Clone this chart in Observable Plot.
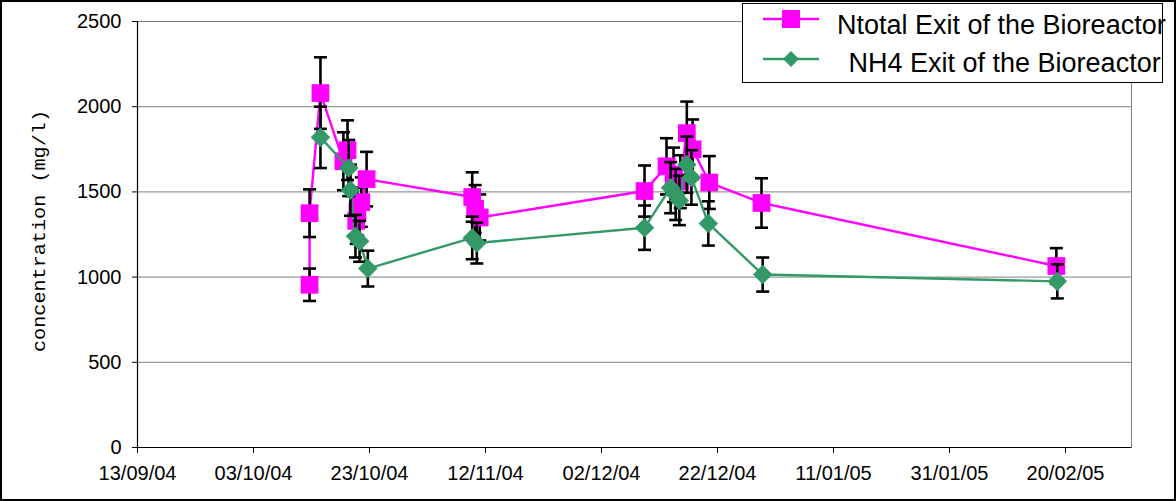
<!DOCTYPE html>
<html><head><meta charset="utf-8">
<script src="https://cdn.jsdelivr.net/npm/d3@7"></script>
<script src="https://cdn.jsdelivr.net/npm/@observablehq/plot@0.6"></script>
<style>
body{margin:0;background:#fff;}
#wrap{position:relative;width:1176px;height:501px;overflow:hidden;}
#wrap > svg{display:block;outline:2px solid #000;outline-offset:-2px;}
#legend{position:absolute;left:742px;top:3px;width:421px;height:80px;box-sizing:border-box;border:1px solid #000;background:#fff;font-family:"Liberation Sans",Arial,sans-serif;font-size:27px;line-height:27px;color:#000;}
#legend span{position:absolute;white-space:pre;}
#legend svg{position:absolute;left:0;top:0;}
</style></head>
<body><div id="wrap"><div id="legend"></div></div>
<script>
// ---- data ----
const seriesNames = ["Ntotal Exit of the Bioreactor", " NH4 Exit of the Bioreactor"];
const yLabel = "concentration (mg/l)";

const ntotalDates = ["2004-10-12T16:00","2004-10-12T16:00","2004-10-14T13:00","2004-10-18T12:00","2004-10-19T05:00",
  "2004-10-20T17:00","2004-10-20T22:00","2004-10-21T14:00","2004-10-22T12:00",
  "2004-11-09T17:00","2004-11-10T05:00","2004-11-11T00:00",
  "2004-12-09T10:00","2004-12-13T05:00","2004-12-14T10:00","2004-12-15T14:00","2004-12-16T17:00","2004-12-17T17:00","2004-12-20T14:00",
  "2004-12-29T14:00","2005-02-18T10:00"];
const ntotalValues = [955,1375,2080,1680,1745,1330,1385,1440,1575,1470,1400,1350,1505,1650,1600,1560,1845,1750,1555,1435,1065];
const ntotalErrors = [95,140,210,170,175,135,140,145,160,145,140,135,150,165,160,155,185,175,155,145,105];

const nh4Dates = ["2004-10-14T13:00","2004-10-19T10:00","2004-10-19T17:00","2004-10-20T14:00","2004-10-21T07:00","2004-10-22T17:00",
  "2004-11-09T17:00","2004-11-10T12:00",
  "2004-12-09T10:00","2004-12-13T22:00","2004-12-14T19:00","2004-12-15T10:00","2004-12-16T17:00","2004-12-17T12:00","2004-12-20T10:00",
  "2004-12-29T19:00","2005-02-18T14:00"];
const nh4Values = [1820,1640,1510,1240,1210,1050,1230,1200,1290,1525,1485,1450,1660,1585,1315,1015,975];
const nh4Errors = [180,165,150,125,120,105,125,120,130,150,150,145,165,160,130,100,100];

const xTickDates = ["2004-09-13","2004-10-03","2004-10-23","2004-11-12","2004-12-02","2004-12-22","2005-01-11","2005-01-31","2005-02-20"];
const yTicks = [0,500,1000,1500,2000,2500];
const xDomain = ["2004-09-13T00:00","2005-03-03T09:00"];
const colors = ["#FF00FF","#339966"];

// ---- build ----
const parse = s => new Date((s.length === 10 ? s + "T00:00" : s) + "Z");
const rows = (dates, vals, errs) => dates.map((d,i) => ({date: parse(d), v: vals[i], lo: vals[i]-errs[i], hi: vals[i]+errs[i]}));
const ntotal = rows(ntotalDates, ntotalValues, ntotalErrors);
const nh4 = rows(nh4Dates, nh4Values, nh4Errors);
const xStart = parse(xDomain[0]);

const capSymbol = {draw(ctx){ ctx.moveTo(-6.5,0); ctx.lineTo(6.5,0); }};
const errMarks = data => [
  Plot.ruleX(data, {x:"date", y1:"lo", y2:"hi", stroke:"#000", strokeWidth:2.6}),
  Plot.dot(data, {x:"date", y:"hi", symbol:capSymbol, stroke:"#000", strokeWidth:2.6, fill:"none"}),
  Plot.dot(data, {x:"date", y:"lo", symbol:capSymbol, stroke:"#000", strokeWidth:2.6, fill:"none"})
];

const chart = Plot.plot({
  width:1176, height:501,
  marginLeft:137, marginRight:45, marginTop:21, marginBottom:54,
  style:{fontFamily:"'Liberation Sans', Arial, sans-serif", fontSize:"20px", background:"#fff", color:"#000"},
  x:{type:"utc", domain:xDomain.map(parse)},
  y:{domain:[0,2500]},
  marks:[
    Plot.gridY(yTicks, {stroke:"#808080", strokeOpacity:1, strokeWidth:1}),
    Plot.frame({stroke:"#808080", strokeWidth:1}),
    Plot.axisY(yTicks, {tickSize:5, tickPadding:11, fontSize:20, label:null, tickFormat:d => String(d)}),
    Plot.axisX(xTickDates.map(parse), {tickSize:6, tickPadding:12, fontSize:20, label:null, tickFormat:d3.utcFormat("%d/%m/%y")}),
    Plot.ruleY([0], {stroke:"#000", strokeWidth:1.2}),
    Plot.ruleX([xStart], {stroke:"#000", strokeWidth:1.2}),
    Plot.line(ntotal, {x:"date", y:"v", stroke:colors[0], strokeWidth:2.4}),
    ...errMarks(ntotal),
    Plot.dot(ntotal, {x:"date", y:"v", symbol:"square", r:10, fill:colors[0]}),
    Plot.line(nh4, {x:"date", y:"v", stroke:colors[1], strokeWidth:2.4}),
    ...errMarks(nh4),
    Plot.dot(nh4, {x:"date", y:"v", symbol:"diamond2", r:8.8, fill:colors[1]})
  ]
});

d3.select(chart).append("text")
  .attr("transform","translate(40,231) rotate(-90)")
  .attr("text-anchor","middle").attr("dominant-baseline","central")
  .attr("font-family","'Liberation Mono', 'Courier New', monospace").attr("font-size",19)
  .attr("textLength",242).attr("lengthAdjust","spacingAndGlyphs")
  .attr("fill","#000")
  .text(yLabel);

const wrap = document.getElementById("wrap");
wrap.insertBefore(chart, wrap.firstChild);

// legend
const legend = d3.select("#legend");
const lsvg = legend.append("svg").attr("width",419).attr("height",78);
[15,55].forEach((cy,i) => {
  lsvg.append("line").attr("x1",20).attr("x2",76).attr("y1",cy).attr("y2",cy).attr("stroke",colors[i]).attr("stroke-width",2.4);
});
lsvg.append("rect").attr("x",48-9).attr("y",15-9).attr("width",18).attr("height",18).attr("fill",colors[0]);
lsvg.append("path").attr("d",`M48,${55-8}L56,55L48,${55+8}L40,55Z`).attr("fill",colors[1]);
legend.append("span").style("left","94px").style("top","8px").text(seriesNames[0]);
legend.append("span").style("left","98px").style("top","46px").text(seriesNames[1]);
</script>
</body></html>
